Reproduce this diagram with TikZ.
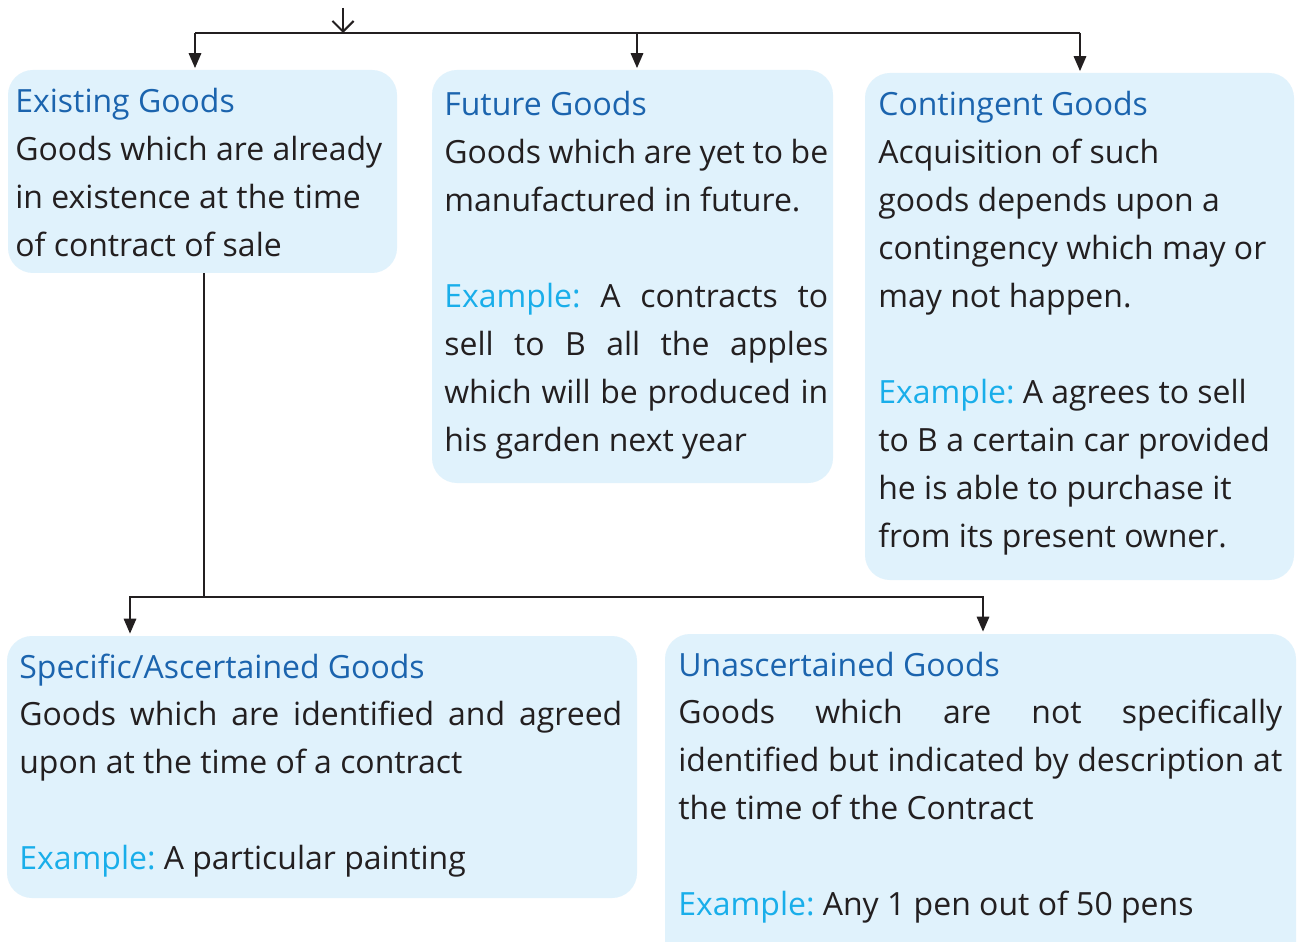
\documentclass[tikz,border=0pt]{standalone}
\usepackage{fontspec}
\setmainfont{Open Sans}
\usetikzlibrary{arrows.meta,fit}
\definecolor{boxfill}{HTML}{E0F2FC}
\definecolor{ttl}{HTML}{1B64AE}
\definecolor{exm}{HTML}{19AEEA}
\definecolor{ink}{HTML}{231F20}
\newcommand{\ttlt}[1]{\textcolor{ttl}{#1}}
\newcommand{\exmp}{\textcolor{exm}{Example:}}
\frenchspacing
\begin{document}
\begin{tikzpicture}[x=0.02cm,y=-0.02cm,
  gbox/.style={fill=boxfill,draw=none,rounded corners=0.5cm,inner sep=0pt},
  txt/.style={anchor=base west,inner sep=0pt,align=justify,text=ink,
    font=\fontsize{18.2pt}{0.96cm}\selectfont},
  conn/.style={draw=ink,line width=1.2pt},
  arr/.style={conn,-{Triangle[length=8.5pt,width=7pt]}},
  barb/.style={conn,-{Straight Barb[length=6pt,width=12pt]}}]
\clip (0,0) rectangle (1301,942);
\fill[white] (0,0) rectangle (1301,942);
% boxes
\node[gbox,fit={(8,70) (397,273)}] (ex) {};
\node[gbox,fit={(432,70) (833,483)}] (fu) {};
\node[gbox,fit={(865,73) (1294,580)}] (co) {};
\node[gbox,fit={(7,636) (637,898)}] (sp) {};
\node[gbox,fit={(665,634) (1296,970)}] (un) {};
% texts
\node[txt,text width=7.6cm] (ext) at (15,113)
  {\ttlt{Existing Goods}\\Goods which are already\\in existence at the time\\of contract of sale};
\node[txt,text width=7.68cm] (fut) at (444,116)
  {\ttlt{Future Goods}\\Goods which are yet to be\linebreak manufactured in future.\\[0.96cm]%
   \exmp{} A contracts to\linebreak sell to B all the apples\linebreak which will be produced in\linebreak his garden next year};
\node[txt,text width=8.2cm] (cot) at (878,116)
  {\ttlt{Contingent Goods}\\Acquisition of such\\goods depends upon a\\contingency which may or\\may not happen.\\[0.96cm]%
   \exmp{} A agrees to sell\\to B a certain car provided\\he is able to purchase it\\from its present owner.};
\node[txt,text width=12.06cm] (spt) at (19,678)
  {\ttlt{Specific/Ascertained Goods}\\Goods which are identified and agreed\linebreak upon at the time of a contract\\[0.96cm]%
   \exmp{} A particular painting};
\node[txt,text width=12.08cm] (unt) at (678,676)
  {\ttlt{Unascertained Goods}\\Goods which are not specifically\linebreak identified but indicated by description at\linebreak the time of the Contract\\[0.96cm]%
   \exmp{} Any 1 pen out of 50 pens};
% connectors
\coordinate (src) at (343,8);
\coordinate (hub) at (343,33);
\coordinate (jL) at (195,33);
\coordinate (jM) at (637,33);
\coordinate (jR) at (1080,33);
\draw[barb] (src) -- (hub);
\draw[conn] (jL) -- (jR);
\draw[arr,shorten >=0.03cm] (jL) -- (jL |- ex.north);
\draw[arr,shorten >=0.03cm] (jM) -- (jM |- fu.north);
\draw[arr,shorten >=0.03cm] (jR) -- (jR |- co.north);
\coordinate (v0) at (204,597);
\coordinate (lL) at (130,597);
\coordinate (lR) at (983,597);
\draw[conn] (v0 |- ex.south) -- (v0);
\draw[arr,shorten >=0.04cm] (v0) -| (lL |- sp.north);
\draw[arr,shorten >=0.04cm] (v0) -| (lR |- un.north);
\end{tikzpicture}
\end{document}
